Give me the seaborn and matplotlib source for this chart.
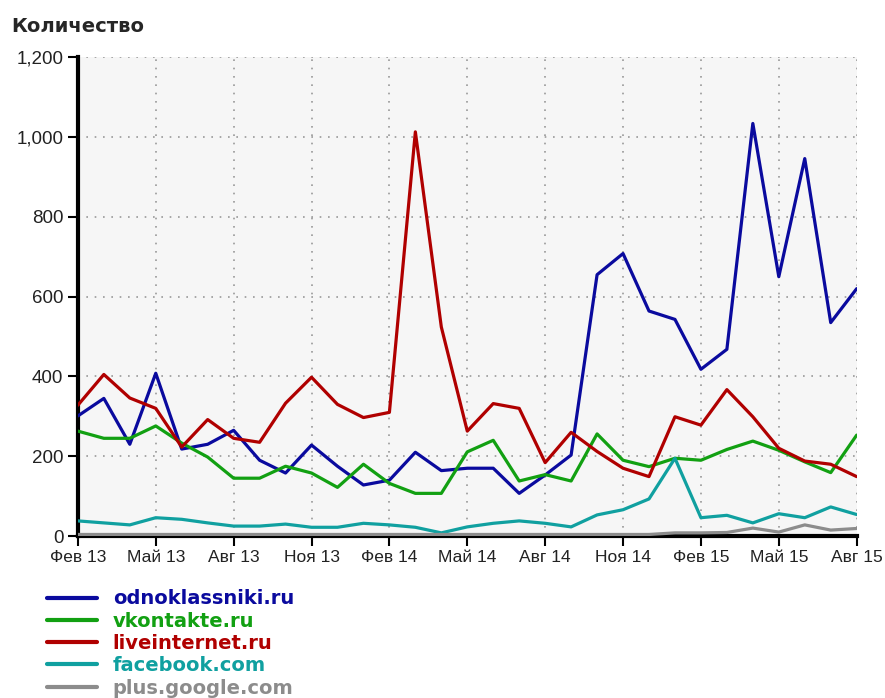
import numpy as np
import pandas as pd
import seaborn as sns
import matplotlib
matplotlib.use("Agg")
import matplotlib.pyplot as plt
from matplotlib.ticker import FuncFormatter, MultipleLocator

# monthly data, Feb 2013 .. Aug 2015
months = ["Фев 13", "Мар 13", "Апр 13", "Май 13", "Июн 13", "Июл 13", "Авг 13", "Сен 13",
          "Окт 13", "Ноя 13", "Дек 13", "Янв 14", "Фев 14", "Мар 14", "Апр 14", "Май 14",
          "Июн 14", "Июл 14", "Авг 14", "Сен 14", "Окт 14", "Ноя 14", "Дек 14", "Янв 15",
          "Фев 15", "Мар 15", "Апр 15", "Май 15", "Июн 15", "Июл 15", "Авг 15"]

odnoklassniki = [301, 345, 230, 408, 218, 230, 265, 190, 158, 228, 175, 128, 140, 210, 164, 170,
                 170, 107, 153, 203, 655, 708, 564, 543, 418, 468, 1034, 650, 946, 535, 620]
vkontakte = [263, 245, 245, 276, 233, 198, 145, 145, 175, 158, 122, 180, 132, 107, 107, 211,
             240, 138, 154, 138, 256, 190, 174, 195, 190, 217, 238, 215, 186, 159, 253]
liveinternet = [328, 405, 346, 320, 223, 292, 245, 235, 333, 398, 330, 297, 310, 1013, 524, 263,
                332, 320, 184, 260, 212, 170, 149, 299, 278, 367, 299, 220, 188, 180, 149]
facebook = [38, 33, 28, 46, 42, 33, 25, 25, 30, 22, 22, 32, 28, 22, 8, 23,
            32, 38, 32, 23, 53, 66, 93, 195, 46, 52, 33, 56, 46, 73, 54]
google = [4, 4, 4, 4, 4, 4, 4, 4, 4, 4, 4, 4, 4, 4, 4, 4,
          4, 4, 4, 4, 4, 4, 4, 8, 8, 9, 20, 10, 28, 15, 19]

sites = ["odnoklassniki.ru", "vkontakte.ru", "liveinternet.ru", "facebook.com", "plus.google.com"]
colors = ["#0a0a9e", "#12a012", "#b00000", "#10a0a0", "#8c8c8c"]

series = [odnoklassniki, vkontakte, liveinternet, facebook, google]
rows = []
for site, vals in zip(sites, series):
    for i, v in enumerate(vals):
        rows.append({"idx": i, "value": v, "site": site})
df = pd.DataFrame(rows)

sns.set_style("white")
plt.rcParams["font.family"] = ["Liberation Sans", "DejaVu Sans"]

fig = plt.figure(figsize=(8.85, 6.98), dpi=100)
ax = fig.add_axes([0.088, 0.232, 0.880, 0.686])
ax.set_facecolor("#f6f6f6")

sns.lineplot(data=df, x="idx", y="value", hue="site", hue_order=sites,
             palette=dict(zip(sites, colors)), linewidth=2.3, ax=ax)

ax.set_xlim(0, 30)
ax.set_ylim(0, 1200)
ax.set_xticks(range(0, 31, 3))
ax.set_xticklabels(months[::3])
ax.yaxis.set_major_locator(MultipleLocator(200))
ax.yaxis.set_major_formatter(FuncFormatter(lambda v, p: f"{v:,.0f}"))
ax.set_xlabel("")
ax.set_ylabel("")

ax.grid(True, color="#999999", linestyle=(0, (1, 4)), linewidth=1.2)
for s in ["top", "right"]:
    ax.spines[s].set_visible(False)
for s in ["left", "bottom"]:
    ax.spines[s].set_color("black")
    ax.spines[s].set_linewidth(3)
    ax.spines[s].set_zorder(1.5)
ax.tick_params(axis="both", direction="out", length=7, width=1.5, color="black",
               labelcolor="#222222", left=True, bottom=True)
ax.tick_params(axis="y", labelsize=13.5)
ax.tick_params(axis="x", labelsize=12.5, pad=3)

fig.text(0.013, 0.962, "Количество", fontsize=14, fontweight="bold",
         family="DejaVu Sans", va="center", ha="left")

sns.move_legend(ax, "upper left", bbox_to_anchor=(-0.05, -0.095), frameon=False,
                title=None, handlelength=2.6, handletextpad=0.8, labelspacing=0.17,
                borderaxespad=0, prop={"family": "DejaVu Sans", "weight": "bold", "size": 14})
leg = ax.get_legend()
for txt, c in zip(leg.get_texts(), colors):
    txt.set_color(c)
for ln in leg.get_lines():
    ln.set_linewidth(3)

fig.savefig("out.png", dpi=100)
